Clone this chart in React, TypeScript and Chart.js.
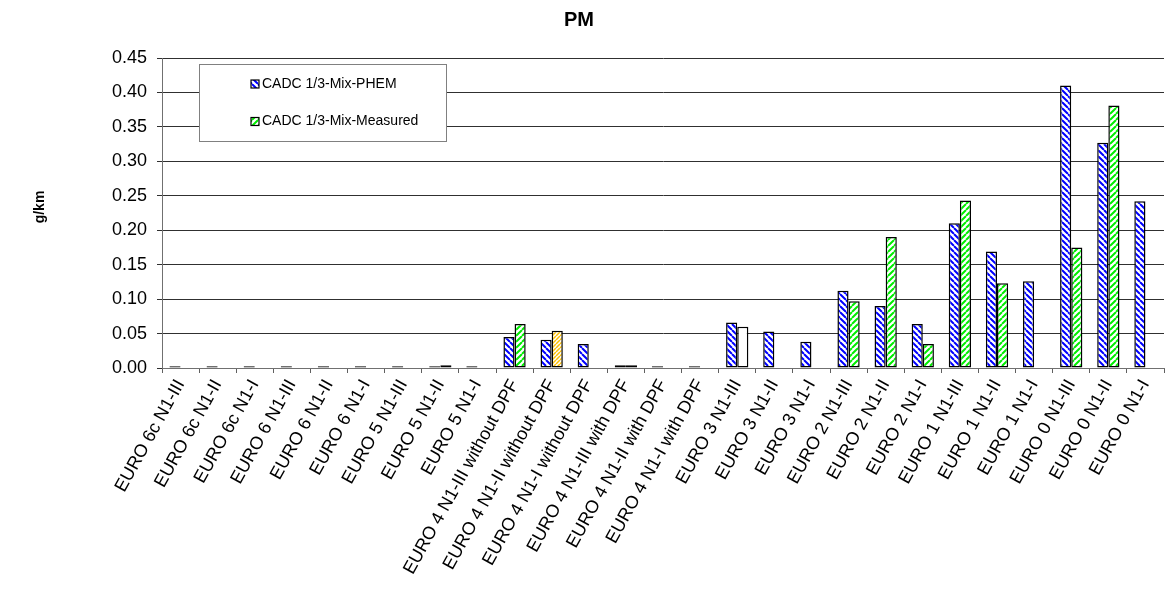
import React, { useEffect, useRef } from "react";
import { Chart, registerables } from "chart.js";

Chart.register(...registerables);

const categories = [
  "EURO 6c N1-III",
  "EURO 6c N1-II",
  "EURO 6c N1-I",
  "EURO 6 N1-III",
  "EURO 6 N1-II",
  "EURO 6 N1-I",
  "EURO 5 N1-III",
  "EURO 5 N1-II",
  "EURO 5 N1-I",
  "EURO 4 N1-III without DPF",
  "EURO 4 N1-II without DPF",
  "EURO 4 N1-I without DPF",
  "EURO 4 N1-III with DPF",
  "EURO 4 N1-II with DPF",
  "EURO 4 N1-I with DPF",
  "EURO 3 N1-III",
  "EURO 3 N1-II",
  "EURO 3 N1-I",
  "EURO 2 N1-III",
  "EURO 2 N1-II",
  "EURO 2 N1-I",
  "EURO 1 N1-III",
  "EURO 1 N1-II",
  "EURO 1 N1-I",
  "EURO 0 N1-III",
  "EURO 0 N1-II",
  "EURO 0 N1-I",
];

const phemValues = [
  0.0025, 0.0025, 0.0025, 0.0025, 0.0025, 0.0025, 0.0025, 0.0025, 0.0025,
  0.045, 0.041, 0.035, 0.004, 0.0025, 0.0025,
  0.066, 0.053, 0.038,
  0.112, 0.09, 0.064,
  0.21, 0.169, 0.126,
  0.41, 0.327, 0.242,
];

const measuredValues = [
  null, null, null, null, null, null, null, 0.004, null,
  0.064, 0.054, null, 0.004, null, null,
  0.06, null, null,
  0.097, 0.19, 0.035,
  0.243, 0.123, null,
  0.175, 0.381, null,
];

// special fill for some measured bars: "yellow" or "white", otherwise green
const measuredFillKind = [
  "", "", "", "", "", "", "", "", "",
  "", "yellow", "", "", "", "",
  "white", "", "",
  "", "", "",
  "", "", "",
  "", "", "",
];

const seriesNames = ["CADC 1/3-Mix-PHEM", "CADC 1/3-Mix-Measured"];
const chartTitle = "PM";
const yAxisTitle = "g/km";

const FONT = '"Liberation Sans", Arial, sans-serif';

function stripePattern(color: string, size: number, lw: number, dir: "down" | "up") {
  const c = document.createElement("canvas");
  c.width = size;
  c.height = size;
  const g = c.getContext("2d")!;
  g.fillStyle = "#ffffff";
  g.fillRect(0, 0, size, size);
  g.strokeStyle = color;
  g.lineWidth = lw;
  g.beginPath();
  for (const o of [-size, 0, size]) {
    if (dir === "down") {
      g.moveTo(o, 0);
      g.lineTo(o + size, size);
    } else {
      g.moveTo(o, size);
      g.lineTo(o + size, 0);
    }
  }
  g.stroke();
  return g.createPattern(c, "repeat")!;
}

export default function App() {
  const ref = useRef<HTMLCanvasElement | null>(null);

  useEffect(() => {
    const canvas = ref.current!;
    const blue = stripePattern("#0000ff", 6, 2, "down");
    const green = stripePattern("#00ee00", 6, 2, "up");
    const yellow = stripePattern("#ffc000", 4, 1.5, "up");

    const measuredFills = measuredFillKind.map((k) =>
      k === "yellow" ? yellow : k === "white" ? "#ffffff" : green
    );

    const decor = {
      id: "decor",
      afterDraw(chart: any) {
        const { ctx, chartArea } = chart;
        ctx.save();
        ctx.fillStyle = "#000";
        ctx.textAlign = "center";
        ctx.textBaseline = "middle";
        ctx.font = `bold 20px ${FONT}`;
        ctx.fillText(chartTitle, 579, 20);

        ctx.save();
        ctx.translate(40, 207);
        ctx.rotate(-Math.PI / 2);
        ctx.font = `bold 14px ${FONT}`;
        ctx.fillText(yAxisTitle, 0, 0);
        ctx.restore();

        // legend box
        const bx = chartArea.left + 37;
        const by = chartArea.top + 6;
        const bw = 247;
        const bh = 77;
        ctx.fillStyle = "#ffffff";
        ctx.fillRect(bx, by, bw, bh);
        ctx.strokeStyle = "#808080";
        ctx.lineWidth = 1;
        ctx.strokeRect(bx + 0.5, by + 0.5, bw, bh);

        const fills = [blue, green];
        const rowsY = [by + 20, by + 57.5];
        ctx.font = `14px ${FONT}`;
        ctx.textAlign = "left";
        ctx.textBaseline = "middle";
        for (let i = 0; i < 2; i++) {
          const mx = bx + 52;
          const my = rowsY[i] - 4;
          ctx.fillStyle = fills[i];
          ctx.fillRect(mx, my, 8, 8);
          ctx.strokeStyle = "#000";
          ctx.lineWidth = 1.2;
          ctx.strokeRect(mx, my, 8, 8);
          ctx.fillStyle = "#000";
          ctx.fillText(seriesNames[i], mx + 11, rowsY[i]);
        }
        ctx.restore();
      },
    };

    const chart = new Chart(canvas, {
      type: "bar",
      data: {
        labels: categories,
        datasets: [
          {
            label: seriesNames[0],
            data: phemValues,
            backgroundColor: blue,
            borderColor: "#000",
            borderWidth: 1.5,
            borderSkipped: false,
          },
          {
            label: seriesNames[1],
            data: measuredValues,
            backgroundColor: measuredFills,
            borderColor: "#000",
            borderWidth: 1.5,
            borderSkipped: false,
          },
        ],
      },
      options: {
        responsive: false,
        animation: false,
        devicePixelRatio: 1,
        layout: { padding: { left: 0, top: 58, right: 11, bottom: 0 } },
        datasets: { bar: { categoryPercentage: 0.6, barPercentage: 1.0 } },
        plugins: {
          legend: { display: false },
          title: { display: false },
          tooltip: { enabled: false },
        },
        scales: {
          x: {
            grid: {
              drawOnChartArea: false,
              drawTicks: true,
              tickLength: 5,
              color: "#606060",
            },
            border: { display: true, color: "#707070", width: 1 },
            ticks: {
              autoSkip: false,
              minRotation: 61,
              maxRotation: 61,
              padding: 3,
              color: "#000",
              font: { family: FONT, size: 18 },
            },
            afterFit(s: any) {
              s.height = 594 - 368;
            },
          },
          y: {
            min: 0,
            max: 0.45,
            grid: {
              color: "#303030",
              tickLength: 5,
            },
            border: { display: true, color: "#707070", width: 1 },
            ticks: {
              stepSize: 0.05,
              padding: 10,
              color: "#000",
              font: { family: FONT, size: 18 },
              callback: (v: any) => Number(v).toFixed(2),
            },
            afterFit(s: any) {
              s.width = 162;
            },
          },
        },
      },
      plugins: [decor],
    });
    return () => chart.destroy();
  }, []);

  return (
    <div style={{ position: "absolute", left: 0, top: 0, width: 1175, height: 594, background: "#fff" }}>
      <canvas ref={ref} width={1175} height={594} />
    </div>
  );
}
